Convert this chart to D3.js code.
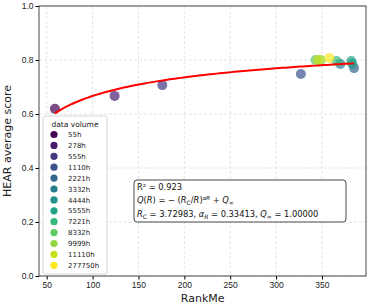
<!DOCTYPE html>
<html>
<head>
<meta charset="utf-8">
<script src="https://cdn.jsdelivr.net/npm/d3@7"></script>
<style>
  body { margin: 0; background: #fff; }
  svg { font-family: "DejaVu Sans", sans-serif; }
  .grid line { stroke: #ddd; stroke-dasharray: 3,2; stroke-width: 0.8; }
  .axis text { font-size: 8.5px; fill: #222; }
</style>
</head>
<body>
<svg id="chart" width="373" height="308"></svg>
<script>
// data
const volumes = ["55h", "278h", "555h", "1110h", "2221h", "3332h", "4444h", "5555h", "7221h", "8332h", "9999h", "11110h", "277750h"];
const rankMe = [59, 124, 176, 327, 385, 370, 383, 382, 366, 343, 349, 346, 358];
const hearScore = [0.619, 0.667, 0.707, 0.748, 0.770, 0.785, 0.786, 0.796, 0.796, 0.800, 0.800, 0.800, 0.807];
const xTicks = [50, 100, 150, 200, 250, 300, 350];
const yTicks = [0.0, 0.2, 0.4, 0.6, 0.8, 1.0];

// fit parameters (shown in the text box)
const Rc = 3.72983, alphaR = 0.33413, Qinf = 1.0;

const svg = d3.select("#chart");
const margin = { top: 6, right: 7, bottom: 32, left: 39 };
const width = 373 - margin.left - margin.right;
const height = 308 - margin.top - margin.bottom;

const x = d3.scaleLinear().domain([41.6, 398]).range([0, width]);
const y = d3.scaleLinear().domain([0, 1]).range([height, 0]);
const color = i => d3.interpolateViridis(i / (volumes.length - 1));

const g = svg.append("g").attr("transform", `translate(${margin.left},${margin.top})`);

// grid
g.append("g").attr("class", "grid")
  .selectAll("line.v").data(xTicks).enter().append("line")
  .attr("x1", d => x(d)).attr("x2", d => x(d)).attr("y1", 0).attr("y2", height);
g.append("g").attr("class", "grid")
  .selectAll("line.h").data(yTicks).enter().append("line")
  .attr("x1", 0).attr("x2", width).attr("y1", d => y(d)).attr("y2", d => y(d));

// axes
g.append("g").attr("class", "axis")
  .attr("transform", `translate(0,${height})`)
  .call(d3.axisBottom(x).tickValues(xTicks).tickSize(3.5).tickPadding(2))
  .call(a => a.select(".domain").remove());
g.append("g").attr("class", "axis")
  .call(d3.axisLeft(y).tickValues(yTicks).tickFormat(d3.format(".1f")).tickSize(3.5).tickPadding(2))
  .call(a => a.select(".domain").remove());

// points
const pts = rankMe.map((r, i) => ({ r, s: hearScore[i], i }));
g.selectAll(".dot").data(pts).enter().append("circle")
  .attr("cx", d => x(d.r)).attr("cy", d => y(d.s)).attr("r", 5)
  .attr("fill", d => color(d.i)).attr("fill-opacity", 0.7);

// fitted curve
const rMin = d3.min(rankMe), rMax = d3.max(rankMe);
const curve = d3.range(0, 101).map(k => {
  const R = rMin + (rMax - rMin) * k / 100;
  return [R, Qinf - Math.pow(Rc / R, alphaR)];
});
g.append("path").datum(curve)
  .attr("fill", "none").attr("stroke", "#ff0000").attr("stroke-width", 2)
  .attr("d", d3.line().x(d => x(d[0])).y(d => y(d[1])));

// frame
g.append("rect").attr("width", width).attr("height", height)
  .attr("fill", "none").attr("stroke", "#333").attr("stroke-width", 0.9);

// axis labels
svg.append("text").attr("x", margin.left + x(220)).attr("y", 302)
  .attr("text-anchor", "middle").attr("font-size", 11).attr("fill", "#222").text("RankMe");
svg.append("text").attr("transform", `translate(11,${margin.top + height / 2}) rotate(-90)`)
  .attr("text-anchor", "middle").attr("font-size", 11).attr("fill", "#222").text("HEAR average score");

// legend
const lg = g.append("g").attr("transform", "translate(4,110)");
lg.append("rect").attr("width", 64).attr("height", 158).attr("rx", 2)
  .attr("fill", "#fff").attr("fill-opacity", 0.85).attr("stroke", "#ccc").attr("stroke-width", 0.8);
lg.append("text").attr("x", 32).attr("y", 11).attr("text-anchor", "middle")
  .attr("font-size", 7.5).attr("fill", "#222").text("data volume");
const items = lg.selectAll(".item").data(volumes).enter().append("g")
  .attr("transform", (d, i) => `translate(0,${18.5 + i * 10.9})`);
items.append("circle").attr("cx", 11).attr("cy", 0).attr("r", 3.6).attr("fill", (d, i) => color(i));
items.append("text").attr("x", 25).attr("y", 2.6).attr("font-size", 7).attr("fill", "#222").text(d => d);

// annotation box
const tb = svg.append("g").attr("transform", "translate(134,180)");
tb.append("rect").attr("width", 212).attr("height", 42).attr("rx", 3)
  .attr("fill", "#fff").attr("stroke", "#333").attr("stroke-width", 0.9);
const t = tb.append("text").attr("font-size", 8.3).attr("fill", "#111");
t.append("tspan").attr("x", 3).attr("y", 9.5).text("R² = 0.923");
const l2 = t.append("tspan").attr("x", 3).attr("y", 23);
l2.append("tspan").attr("font-style", "italic").text("Q");
l2.append("tspan").text("(");
l2.append("tspan").attr("font-style", "italic").text("R");
l2.append("tspan").text(") = − (");
l2.append("tspan").attr("font-style", "italic").text("R");
l2.append("tspan").attr("font-size", 6).attr("dy", 2).text("C");
l2.append("tspan").attr("dy", -2).text("/");
l2.append("tspan").attr("font-style", "italic").text("R");
l2.append("tspan").text(")");
l2.append("tspan").attr("font-size", 5.5).attr("dy", -3.5).attr("font-style", "italic").text("αR");
l2.append("tspan").attr("dy", 3.5).text(" + ");
l2.append("tspan").attr("font-style", "italic").text("Q");
l2.append("tspan").attr("font-size", 6).attr("dy", 2).text("∞");
const l3 = t.append("tspan").attr("x", 3).attr("y", 36.5);
l3.append("tspan").attr("font-style", "italic").text("R");
l3.append("tspan").attr("font-size", 6).attr("dy", 2).text("C");
l3.append("tspan").attr("dy", -2).text(" = 3.72983, ");
l3.append("tspan").attr("font-style", "italic").text("α");
l3.append("tspan").attr("font-size", 6).attr("dy", 2).attr("font-style", "italic").text("R");
l3.append("tspan").attr("dy", -2).text(" = 0.33413, ");
l3.append("tspan").attr("font-style", "italic").text("Q");
l3.append("tspan").attr("font-size", 6).attr("dy", 2).text("∞");
l3.append("tspan").attr("dy", -2).text(" = 1.00000");
</script>
</body>
</html>
